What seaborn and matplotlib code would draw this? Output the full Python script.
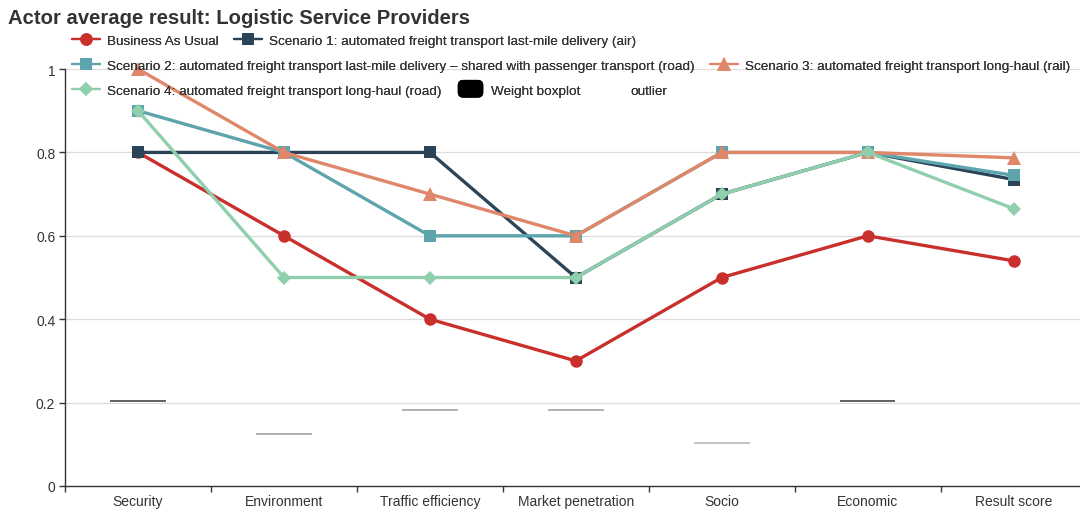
import numpy as np
import pandas as pd
import seaborn as sns
import matplotlib.pyplot as plt
from matplotlib.lines import Line2D
from matplotlib.patches import Patch, FancyBboxPatch
from matplotlib.legend_handler import HandlerPatch
from matplotlib.ticker import FixedLocator, FuncFormatter

categories = ['Security', 'Environment', 'Traffic efficiency', 'Market penetration',
              'Socio', 'Economic', 'Result score']
series_names = [
    'Business As Usual',
    'Scenario 1: automated freight transport last-mile delivery (air)',
    'Scenario 2: automated freight transport last-mile delivery \u2013 shared with passenger transport (road)',
    'Scenario 3: automated freight transport long-haul (rail)',
    'Scenario 4: automated freight transport long-haul (road)',
]
bau = [0.8, 0.6, 0.4, 0.3, 0.5, 0.6, 0.54]
scen1 = [0.8, 0.8, 0.8, 0.5, 0.7, 0.8, 0.735]
scen2 = [0.9, 0.8, 0.6, 0.6, 0.8, 0.8, 0.745]
scen3 = [1.0, 0.8, 0.7, 0.6, 0.8, 0.8, 0.787]
scen4 = [0.9, 0.5, 0.5, 0.5, 0.7, 0.8, 0.665]
weights = [0.204, 0.125, 0.182, 0.182, 0.103, 0.204]

colors = ['#c9302c', '#2c4457', '#5ea4ad', '#e0876a', '#90cfad']
markers = ['o', 's', 's', '^', 'D']
msizes = [9, 9, 9, 9.5, 7]


class RoundBox(HandlerPatch):
    # black rounded rectangle like the original legend swatch
    def create_artists(self, legend, orig_handle, xdescent, ydescent, width, height, fontsize, trans):
        p = FancyBboxPatch((-xdescent + 1.5, -ydescent - 2.5), width - 3, height + 5,
                           boxstyle='round,pad=0,rounding_size=3.5',
                           fc='black', ec='black', transform=trans)
        return [p]


rows = []
for name, vals in zip(series_names, [bau, scen1, scen2, scen3, scen4]):
    for i, v in enumerate(vals):
        rows.append({'scenario': name, 'pos': i, 'value': v})
df = pd.DataFrame(rows)

sns.set_style('white')
plt.rcParams['font.family'] = ['Liberation Sans', 'DejaVu Sans']

fig = plt.figure(figsize=(10.8, 5.1), dpi=100)
ax = fig.add_axes([0.0602, 0.0451, 0.946, 0.8176])

# weight boxplot medians (short horizontal lines)
wcols = ['#555555', '#aaaaaa', '#aaaaaa', '#aaaaaa', '#c0c0c0', '#555555']
for i, (w, c) in enumerate(zip(weights, wcols)):
    ax.hlines(w, i - 0.19, i + 0.19, color=c, lw=1.3, zorder=2)

for name, col, mk, ms in zip(series_names, colors, markers, msizes):
    sub = df[df['scenario'] == name]
    sns.lineplot(data=sub, x='pos', y='value', ax=ax, color=col, marker=mk,
                 markersize=ms, markeredgewidth=0, lw=2.4, sort=False,
                 legend=False, clip_on=False, zorder=3)

ax.set_xlim(-0.5, 6.5)
ax.set_ylim(0, 1)
ax.set_xlabel('')
ax.set_ylabel('')
ax.xaxis.set_major_locator(FixedLocator(range(len(categories))))
ax.set_xticklabels(categories)
ax.xaxis.set_minor_locator(FixedLocator(np.arange(-0.5, 6.6, 1)))
ax.tick_params(axis='x', which='major', length=0, pad=6, labelsize=10, labelcolor='#333333')
ax.tick_params(axis='x', which='minor', length=4, width=1, color='#333333', bottom=True)
ax.set_yticks([0, 0.2, 0.4, 0.6, 0.8, 1.0])
ax.yaxis.set_major_formatter(FuncFormatter(lambda v, p: f'{v:g}'))
ax.tick_params(axis='y', length=4, width=1, color='#333333', left=True, labelsize=10,
               labelcolor='#333333', pad=3)
for y in [0.2, 0.4, 0.6, 0.8, 1.0]:
    ax.axhline(y, color='#dddddd', lw=0.9, zorder=0)
for s in ['top', 'right']:
    ax.spines[s].set_visible(False)
for s in ['left', 'bottom']:
    ax.spines[s].set_color('#333333')
    ax.spines[s].set_linewidth(1)

fig.text(0.007, 0.963, 'Actor average result: Logistic Service Providers',
         fontsize=14.6, fontweight='bold', color='#333333', va='center')

handles = [Line2D([0], [0], color=c, marker=m, markersize=ms, markeredgewidth=0, lw=1.6)
           for c, m, ms in zip(colors, markers, msizes)]
box_h = Patch(facecolor='black', edgecolor='black')
out_h = Line2D([0], [0], color='none', lw=0)

legend_rows = [
    ([handles[0], handles[1]], series_names[0:2], 0.919),
    ([handles[2], handles[3]], series_names[2:4], 0.870),
    ([handles[4], box_h, out_h], [series_names[4], 'Weight boxplot', 'outlier'], 0.821),
]
for hs, labs, yy in legend_rows:
    leg = fig.legend(hs, labs, loc='center left', bbox_to_anchor=(0.0667, yy), ncol=len(hs),
                     frameon=False, fontsize=9.7, handlelength=2.1, handletextpad=0.5,
                     columnspacing=1.1, borderaxespad=0, borderpad=0,
                     handler_map={Patch: RoundBox()})
    for t in leg.get_texts():
        t.set_color('#333333')
    fig.add_artist(leg)

fig.savefig('out.png', dpi=100)
